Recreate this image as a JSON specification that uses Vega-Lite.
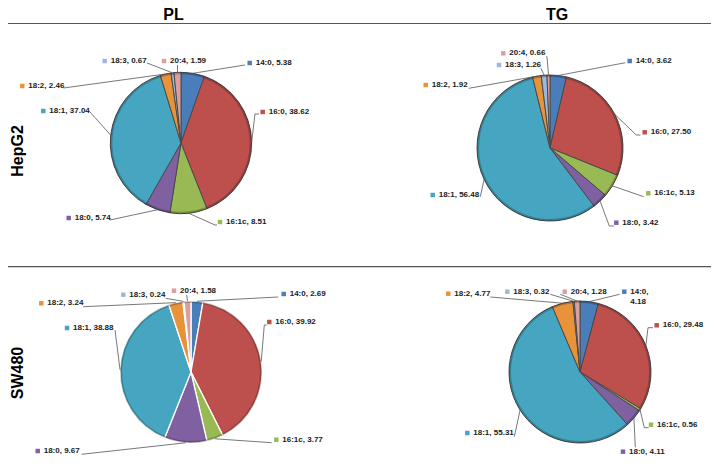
{
"$schema":"https://vega.github.io/schema/vega-lite/v6.json",
"width":715,"height":468,"padding":0,
"autosize":{"type":"fit","contains":"padding"},
"background":"white",
"config":{"view":{"stroke":null}},
"layer":[
{"data":{"values":[
{"line":"HepG2","cls":"PL","lipid":"14:0","order":1,"pct":5.38},
{"line":"HepG2","cls":"PL","lipid":"16:0","order":2,"pct":38.62},
{"line":"HepG2","cls":"PL","lipid":"16:1c","order":3,"pct":8.51},
{"line":"HepG2","cls":"PL","lipid":"18:0","order":4,"pct":5.74},
{"line":"HepG2","cls":"PL","lipid":"18:1","order":5,"pct":37.04},
{"line":"HepG2","cls":"PL","lipid":"18:2","order":6,"pct":2.46},
{"line":"HepG2","cls":"PL","lipid":"18:3","order":7,"pct":0.67},
{"line":"HepG2","cls":"PL","lipid":"20:4","order":8,"pct":1.59},
{"line":"HepG2","cls":"TG","lipid":"14:0","order":1,"pct":3.62},
{"line":"HepG2","cls":"TG","lipid":"16:0","order":2,"pct":27.50},
{"line":"HepG2","cls":"TG","lipid":"16:1c","order":3,"pct":5.13},
{"line":"HepG2","cls":"TG","lipid":"18:0","order":4,"pct":3.42},
{"line":"HepG2","cls":"TG","lipid":"18:1","order":5,"pct":56.48},
{"line":"HepG2","cls":"TG","lipid":"18:2","order":6,"pct":1.92},
{"line":"HepG2","cls":"TG","lipid":"18:3","order":7,"pct":1.26},
{"line":"HepG2","cls":"TG","lipid":"20:4","order":8,"pct":0.66},
{"line":"SW480","cls":"PL","lipid":"14:0","order":1,"pct":2.69},
{"line":"SW480","cls":"PL","lipid":"16:0","order":2,"pct":39.92},
{"line":"SW480","cls":"PL","lipid":"16:1c","order":3,"pct":3.77},
{"line":"SW480","cls":"PL","lipid":"18:0","order":4,"pct":9.67},
{"line":"SW480","cls":"PL","lipid":"18:1","order":5,"pct":38.88},
{"line":"SW480","cls":"PL","lipid":"18:2","order":6,"pct":3.24},
{"line":"SW480","cls":"PL","lipid":"18:3","order":7,"pct":0.24},
{"line":"SW480","cls":"PL","lipid":"20:4","order":8,"pct":1.58},
{"line":"SW480","cls":"TG","lipid":"14:0","order":1,"pct":4.18},
{"line":"SW480","cls":"TG","lipid":"16:0","order":2,"pct":29.48},
{"line":"SW480","cls":"TG","lipid":"16:1c","order":3,"pct":0.56},
{"line":"SW480","cls":"TG","lipid":"18:0","order":4,"pct":4.11},
{"line":"SW480","cls":"TG","lipid":"18:1","order":5,"pct":55.31},
{"line":"SW480","cls":"TG","lipid":"18:2","order":6,"pct":4.77},
{"line":"SW480","cls":"TG","lipid":"18:3","order":7,"pct":0.32},
{"line":"SW480","cls":"TG","lipid":"20:4","order":8,"pct":1.28}
]},
"transform":[
{"stack":"pct","groupby":["line","cls"],"sort":[{"field":"order","order":"ascending"}],"offset":"normalize","as":["s0","s1"]},
{"calculate":"{'HepG2PL':[181,143,70.7],'HepG2TG':[550,148,73],'SW480PL':[191,372,71],'SW480TG':[580,372,71]}[datum.line+datum.cls]","as":"c"},
{"calculate":"datum.c[0]","as":"cx"},
{"calculate":"datum.c[1]","as":"cy"},
{"calculate":"datum.c[2]","as":"r"},
{"calculate":"datum.r-2","as":"ri"},
{"calculate":"(datum.s0+datum.s1)*3.14159265","as":"a"},
{"calculate":"datum.cx+datum.r*sin(datum.a)","as":"ex"},
{"calculate":"datum.cy-datum.r*cos(datum.a)","as":"ey"},
{"calculate":"{'HepG2PL14:0':[255.7,63,245,65,245,65],'HepG2PL16:0':[268.7,112,255,114,259,114],'HepG2PL16:1c':[226,222,215,225,217,225],'HepG2PL18:0':[74.7,218,110,220,110,220],'HepG2PL18:1':[49.3,111,90,112,90,112],'HepG2PL18:2':[28.3,86,63.5,88,63.5,88],'HepG2PL18:3':[110.7,61,147,63,147,63],'HepG2PL20:4':[170,61,177.5,65,177.5,65],'HepG2TG14:0':[635.7,61,625.3,62.7,625.3,62.7],'HepG2TG16:0':[650.7,132.3,636.3,135,640.3,135],'HepG2TG16:1c':[654.3,193.3,643.7,196.7,643.7,196.7],'HepG2TG18:0':[622.3,222.7,609.3,226,614.3,226],'HepG2TG18:1':[438.7,195,480.3,196.7,480.3,196.7],'HepG2TG18:2':[431.7,85,468.7,88.3,468.7,88.3],'HepG2TG18:3':[505,65,541,68.3,541,68.3],'HepG2TG20:4':[509.3,53.3,547,56.7,546.3,56.7],'SW480PL14:0':[289.7,294,278.3,297,278.3,297],'SW480PL16:0':[275.3,322,264.3,325,266.7,325],'SW480PL16:1c':[282.3,439.7,271.7,442.7,271.7,442.7],'SW480PL18:0':[43.7,451,81.7,454.3,81.7,454.3],'SW480PL18:1':[73,328,115,330,115,330],'SW480PL18:2':[47.3,303.3,83.3,306.7,83.3,306.7],'SW480PL18:3':[129.3,294.7,165.7,298.3,165.7,298.3],'SW480PL20:4':[180,290.7,186.7,295,186.7,295],'SW480TG14:0':[630.3,291.7,619.7,294.3,619.7,294.3],'SW480TG16:0':[662.7,325.3,648,327.7,653,327.7],'SW480TG16:1c':[657,424.7,644.3,427.7,648.7,427.7],'SW480TG18:0':[629,451.7,635.3,447.3,635.3,447.3],'SW480TG18:1':[473.3,433,514.3,436.7,514.3,436.7],'SW480TG18:2':[454.3,293.7,490.3,297,490.3,297],'SW480TG18:3':[513.3,291.7,550.3,294.3,550.3,294.3],'SW480TG20:4':[570.7,291.7,560.3,294.3,560.3,294.3]}[datum.line+datum.cls+datum.lipid]","as":"p"},
{"calculate":"datum.line=='SW480'&&datum.cls=='TG'&&datum.lipid=='14:0'","as":"wrap"},
{"calculate":"datum.p[0]","as":"tx"},
{"calculate":"datum.p[1]","as":"ty"},
{"calculate":"datum.p[0]-6","as":"kx"},
{"calculate":"datum.p[1]","as":"ky"},
{"calculate":"datum.p[2]","as":"bx"},
{"calculate":"datum.p[3]","as":"by"},
{"calculate":"datum.p[4]","as":"lx"},
{"calculate":"datum.p[5]","as":"ly"},
{"calculate":"datum.lipid+(datum.wrap?',\\n':', ')+format(datum.pct,'.2f')","as":"label"}
],
"layer":[
{"mark":{"type":"arc"},
 "encoding":{
  "x":{"field":"cx","type":"quantitative","scale":null},
  "y":{"field":"cy","type":"quantitative","scale":null},
  "theta":{"field":"s0","type":"quantitative","scale":{"domain":[0,1],"range":[0,6.28318]}},
  "theta2":{"field":"s1"},
  "radius":{"field":"r","type":"quantitative","scale":null},
  "fill":{"field":"lipid","type":"nominal","legend":null,"scale":{"domain":["14:0","16:0","16:1c","18:0","18:1","18:2","18:3","20:4"],"range":["#4a7ebb","#bd4f4c","#98b954","#7f60a0","#46a5c0","#e8923a","#9db8dc","#dba09e"]}},
  "stroke":{"condition":{"test":"datum.line=='SW480'&&datum.cls=='PL'","value":"#ffffff"},"value":"#4a4a4a"},
  "strokeWidth":{"condition":{"test":"datum.line=='SW480'&&datum.cls=='PL'","value":1.3},"value":1}
 }},
{"mark":{"type":"arc","fill":"#000000","fillOpacity":0.22},
 "encoding":{
  "x":{"field":"cx","type":"quantitative","scale":null},
  "y":{"field":"cy","type":"quantitative","scale":null},
  "theta":{"field":"s0","type":"quantitative","scale":{"domain":[0,1],"range":[0,6.28318]}},
  "theta2":{"field":"s1"},
  "radius":{"field":"r","type":"quantitative","scale":null},
  "radius2":{"field":"ri"}
 }},
{"mark":{"type":"rule","stroke":"#555555","strokeWidth":0.8},
 "encoding":{
  "x":{"field":"ex","type":"quantitative","scale":null},
  "y":{"field":"ey","type":"quantitative","scale":null},
  "x2":{"field":"bx"},
  "y2":{"field":"by"}
 }},
{"mark":{"type":"rule","stroke":"#555555","strokeWidth":0.8},
 "encoding":{
  "x":{"field":"bx","type":"quantitative","scale":null},
  "y":{"field":"by","type":"quantitative","scale":null},
  "x2":{"field":"lx"},
  "y2":{"field":"ly"}
 }},
{"mark":{"type":"point","shape":"square","filled":true,"size":20,"opacity":1},
 "encoding":{
  "x":{"field":"kx","type":"quantitative","scale":null},
  "y":{"field":"ky","type":"quantitative","scale":null},
  "fill":{"field":"lipid","type":"nominal","legend":null,"scale":{"domain":["14:0","16:0","16:1c","18:0","18:1","18:2","18:3","20:4"],"range":["#4a7ebb","#bd4f4c","#98b954","#7f60a0","#46a5c0","#e8923a","#9db8dc","#dba09e"]}}
 }},
{"mark":{"type":"text","align":"left","baseline":"middle","font":"Liberation Sans","fontWeight":"bold","fontSize":8,"fill":"#1a1a1a","lineBreak":"\n","lineHeight":10},
 "encoding":{
  "x":{"field":"tx","type":"quantitative","scale":null},
  "y":{"field":"ty","type":"quantitative","scale":null},
  "text":{"field":"label","type":"nominal"}
 }}
]},
{"data":{"values":[{"section":"top"},{"section":"middle"}]},
 "transform":[{"calculate":"datum.section=='top'?23.5:266.7","as":"yy"}],
 "mark":{"type":"rule","stroke":"#555555","strokeWidth":1.2},
 "encoding":{
  "x":{"value":8},"x2":{"value":711},
  "y":{"field":"yy","type":"quantitative","scale":null}
 }},
{"data":{"values":[{"head":"PL"},{"head":"TG"}]},
 "transform":[{"calculate":"datum.head=='PL'?173.5:557","as":"hx"},{"calculate":"15","as":"hy"}],
 "mark":{"type":"text","align":"center","baseline":"middle","font":"Liberation Sans","fontWeight":"bold","fontSize":16,"fill":"#000000"},
 "encoding":{
  "x":{"field":"hx","type":"quantitative","scale":null},
  "y":{"field":"hy","type":"quantitative","scale":null},
  "text":{"field":"head","type":"nominal"}
 }},
{"data":{"values":[{"head":"HepG2"},{"head":"SW480"}]},
 "transform":[{"calculate":"18","as":"hx"},{"calculate":"datum.head=='HepG2'?151:373","as":"hy"}],
 "mark":{"type":"text","align":"center","baseline":"middle","angle":270,"font":"Liberation Sans","fontWeight":"bold","fontSize":16,"fill":"#000000"},
 "encoding":{
  "x":{"field":"hx","type":"quantitative","scale":null},
  "y":{"field":"hy","type":"quantitative","scale":null},
  "text":{"field":"head","type":"nominal"}
 }}
]
}
